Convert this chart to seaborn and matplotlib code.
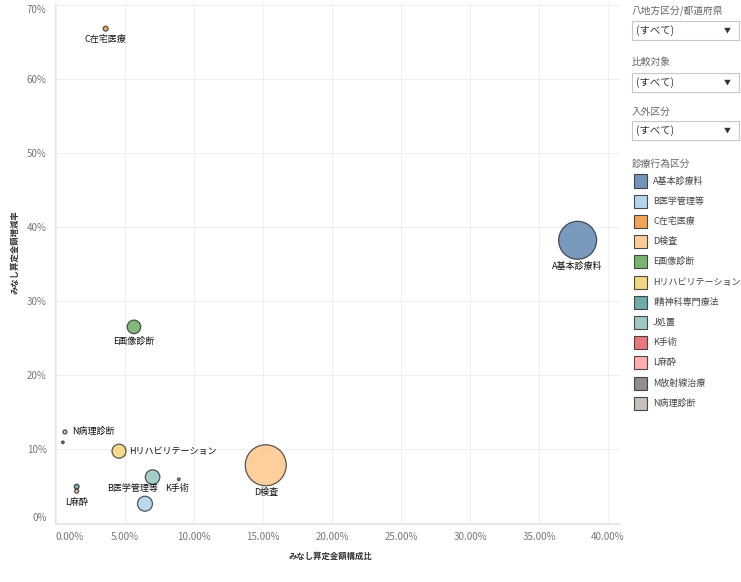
import seaborn as sns
import matplotlib.pyplot as plt
import pandas as pd
from matplotlib.patches import Rectangle

# data
categories = ['A基本診療料', 'B医学管理等', 'C在宅医療', 'D検査', 'E画像診断', 'Hリハビリテーション',
              'I精神科専門療法', 'J処置', 'K手術', 'L麻酔', 'M放射線治療', 'N病理診断']
share = [37.8, 6.45, 3.6, 15.2, 5.65, 4.57, 1.5, 7.0, 8.9, 1.5, 0.5, 0.65]      # みなし算定金額構成比 (%)
growth = [38.2, 2.6, 66.8, 7.8, 26.5, 9.7, 4.9, 6.2, 5.9, 4.3, 10.9, 12.3]     # みなし算定金額増減率 (%)
amount = [361, 56, 6, 420, 46, 49, 6, 53, 1.7, 4, 1.7, 4]                      # bubble size (relative)
colors = ['#4E79A7', '#A0CBE8', '#F28E2B', '#FFBE7D', '#59A14F', '#F1CE63',
          '#499894', '#86BCB6', '#E15759', '#FF9D9A', '#79706E', '#BAB0AC']
filters = ['八地方区分/都道府県', '比較対象', '入外区分']
x_ticks = [0, 5, 10, 15, 20, 25, 30, 35, 40]
y_ticks = [0, 10, 20, 30, 40, 50, 60, 70]

df = pd.DataFrame({'cat': categories, 'share': share, 'growth': growth, 'amount': amount})

sns.set_style('whitegrid')
plt.rcParams['font.family'] = ['Noto Sans CJK JP', 'DejaVu Sans']

W, H = 741, 582
fig = plt.figure(figsize=(W / 100, H / 100), dpi=100)
ax = fig.add_axes([55 / W, 1 - 524 / H, (620 - 55) / W, (524 - 3) / H])

sns.scatterplot(data=df, x='share', y='growth', hue='cat', palette=colors,
                size='amount', size_norm=(0, 420), sizes=(0, 2.07 * 420),
                alpha=0.75, edgecolor='#222222', linewidth=0.9, legend=False, ax=ax)

# point labels: offsets in pixels (dx, dy with dy down), alignment
label_pos = {
    'A基本診療料': (0, 26, 'center'),
    'B医学管理等': (-12, -15, 'center'),
    'C在宅医療': (0, 11, 'center'),
    'D検査': (0, 27, 'center'),
    'E画像診断': (0, 14, 'center'),
    'Hリハビリテーション': (10, 0, 'left'),
    'K手術': (-2, 9, 'center'),
    'L麻酔': (0, 11, 'center'),
    'N病理診断': (7, -1, 'left'),
}
for c, x, y in zip(categories, share, growth):
    if c in label_pos:
        dx, dy, ha = label_pos[c]
        ax.annotate(c, (x, y), xytext=(dx * 0.72, -dy * 0.72), textcoords='offset points',
                    ha=ha, va='center', fontsize=6.5, color='#111111')

ax.set_xlim(-0.07, 40.87)
ax.set_ylim(-0.14, 70.27)
ax.set_xticks(x_ticks)
ax.set_xticklabels([f'{v:.2f}%' for v in x_ticks])
ax.set_yticks(y_ticks)
ax.set_yticklabels([f'{v}%' for v in y_ticks])
ax.get_xticklabels()[0].set_ha('left')
ax.get_yticklabels()[-1].set_va('top')
ax.get_yticklabels()[0].set_va('bottom')
ax.tick_params(labelsize=7, labelcolor='#777777', length=0, pad=6)
ax.grid(color='#eeeeee', linewidth=0.8)
for s in ['top', 'right']:
    ax.spines[s].set_visible(False)
for s in ['left', 'bottom']:
    ax.spines[s].set_color('#e3e3e3')
    ax.spines[s].set_linewidth(0.8)
ax.set_xlabel('')
ax.set_ylabel('')


def fx(px):
    return px / W


def fy(py):
    return 1 - py / H


# axis titles
fig.text(fx(330), fy(556), 'みなし算定金額構成比', fontsize=6, fontweight='bold', color='#333333',
         ha='center', va='center')
fig.text(fx(15), fy(252), 'みなし算定金額増減率', fontsize=6, fontweight='bold', color='#333333',
         ha='center', va='center', rotation=90)

# filter dropdowns
for i, name in enumerate(filters):
    top = [21, 73, 121][i]
    ty = [11, 62, 112][i]
    fig.text(fx(632), fy(ty), name, fontsize=7, color='#666666', va='center')
    fig.add_artist(Rectangle((fx(632), fy(top + 19)), fx(739) - fx(632), fy(top) - fy(top + 19),
                             transform=fig.transFigure, facecolor='white', edgecolor='#c8c8c8',
                             linewidth=0.8))
    fig.text(fx(636), fy(top + 9.5), '(すべて)', fontsize=7.5, color='#333333', va='center')
    fig.text(fx(727), fy(top + 9.5), '▼', fontsize=5, color='#333333', va='center', ha='center')

# category legend
fig.text(fx(632), fy(164), '診療行為区分', fontsize=7, color='#666666', va='center')
for i, (c, col) in enumerate(zip(categories, colors)):
    cy = 181 + i * 20.2
    fig.add_artist(Rectangle((fx(634), fy(cy + 6.5)), fx(13), 13 / H,
                             transform=fig.transFigure, facecolor=col, alpha=0.8,
                             edgecolor='#222222', linewidth=0.8))
    fig.text(fx(653), fy(cy), c, fontsize=6.5, color='#444444', va='center')

fig.savefig('out.png', dpi=100)
